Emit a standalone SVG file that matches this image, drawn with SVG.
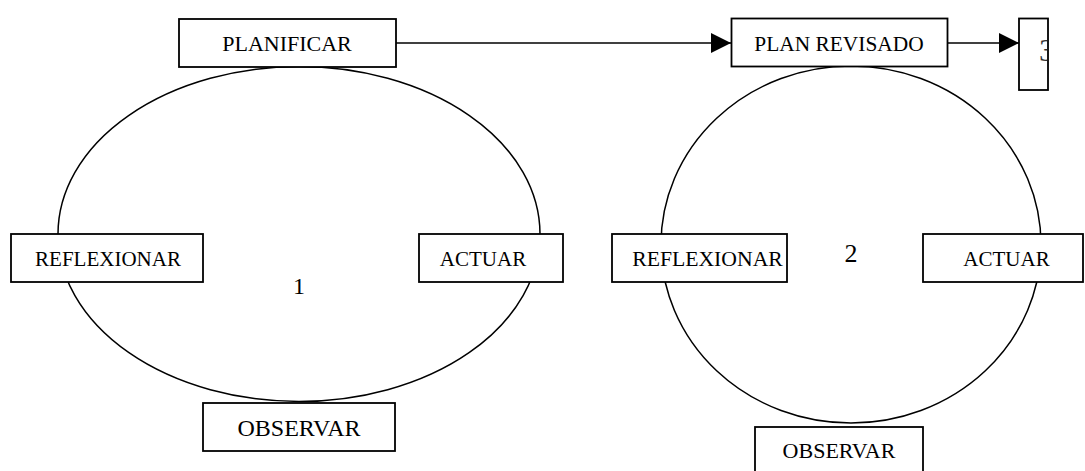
<svg xmlns="http://www.w3.org/2000/svg" width="1085" height="471" viewBox="0 0 1085 471">
<style>
.box{fill:#fff;stroke:#000;stroke-width:1.8}
.ell{fill:none;stroke:#000;stroke-width:1.5}
.lbl{font-family:"Liberation Serif","Times New Roman",serif;font-size:21px;fill:#000;text-anchor:middle}
.num{font-family:"Liberation Serif","Times New Roman",serif;font-size:24px;fill:#000;text-anchor:middle}
.con{stroke:#000;stroke-width:1.5;fill:none}
</style>
<defs>
<marker id="arr" markerWidth="20" markerHeight="20" refX="20" refY="10" orient="auto" markerUnits="userSpaceOnUse" viewBox="0 0 20 20">
<path d="M0,0 L20,10 L0,20 Z" fill="#000"/>
</marker>
<clipPath id="clip3"><rect x="1019" y="19" width="28" height="70"/></clipPath>
</defs>
<rect width="1085" height="471" fill="#fff"/>
<g id="cycle1">
<ellipse class="ell" cx="299" cy="234" rx="241" ry="167.5"/>
<text class="num" x="299" y="294">1</text>
</g>
<g id="cycle2">
<ellipse class="ell" cx="851" cy="244.5" rx="190" ry="178.5"/>
<text class="num" x="851" y="262" style="font-size:26px">2</text>
</g>
<g id="connectors">
<line class="con" x1="396" y1="43" x2="731" y2="43" marker-end="url(#arr)"/>
<line class="con" x1="947" y1="43" x2="1019" y2="43" marker-end="url(#arr)"/>
</g>
<g id="planificar">
<rect class="box" x="179" y="19" width="217" height="48"/>
<text class="lbl" x="287" y="51" style="font-size:22px">PLANIFICAR</text>
</g>
<g id="plan-revisado">
<rect class="box" x="731.5" y="18.5" width="216" height="48"/>
<text class="lbl" x="839" y="51" style="font-size:21.4px">PLAN REVISADO</text>
</g>
<g id="box3">
<rect class="box" x="1019" y="18.5" width="29" height="71.5"/>
<text x="1039" y="61" font-family="Liberation Serif, serif" font-size="32" fill="#333" clip-path="url(#clip3)">3</text>
</g>
<g id="reflexionar1">
<rect class="box" x="11" y="234" width="192" height="48"/>
<text class="lbl" x="108" y="266">REFLEXIONAR</text>
</g>
<g id="actuar1">
<rect class="box" x="419" y="234" width="144" height="48"/>
<text class="lbl" x="483" y="266">ACTUAR</text>
</g>
<g id="observar1">
<rect class="box" x="203" y="403" width="192" height="48"/>
<text class="lbl" x="299" y="436" style="font-size:24px">OBSERVAR</text>
</g>
<g id="reflexionar2">
<rect class="box" x="612" y="234" width="175" height="48"/>
<text class="lbl" x="707.5" y="266" style="font-size:21.7px">REFLEXIONAR</text>
</g>
<g id="actuar2">
<rect class="box" x="923" y="234" width="160" height="48"/>
<text class="lbl" x="1006.5" y="266">ACTUAR</text>
</g>
<g id="observar2">
<rect class="box" x="755" y="427" width="168" height="50"/>
<text class="lbl" x="839" y="458" style="font-size:22px">OBSERVAR</text>
</g>
</svg>
